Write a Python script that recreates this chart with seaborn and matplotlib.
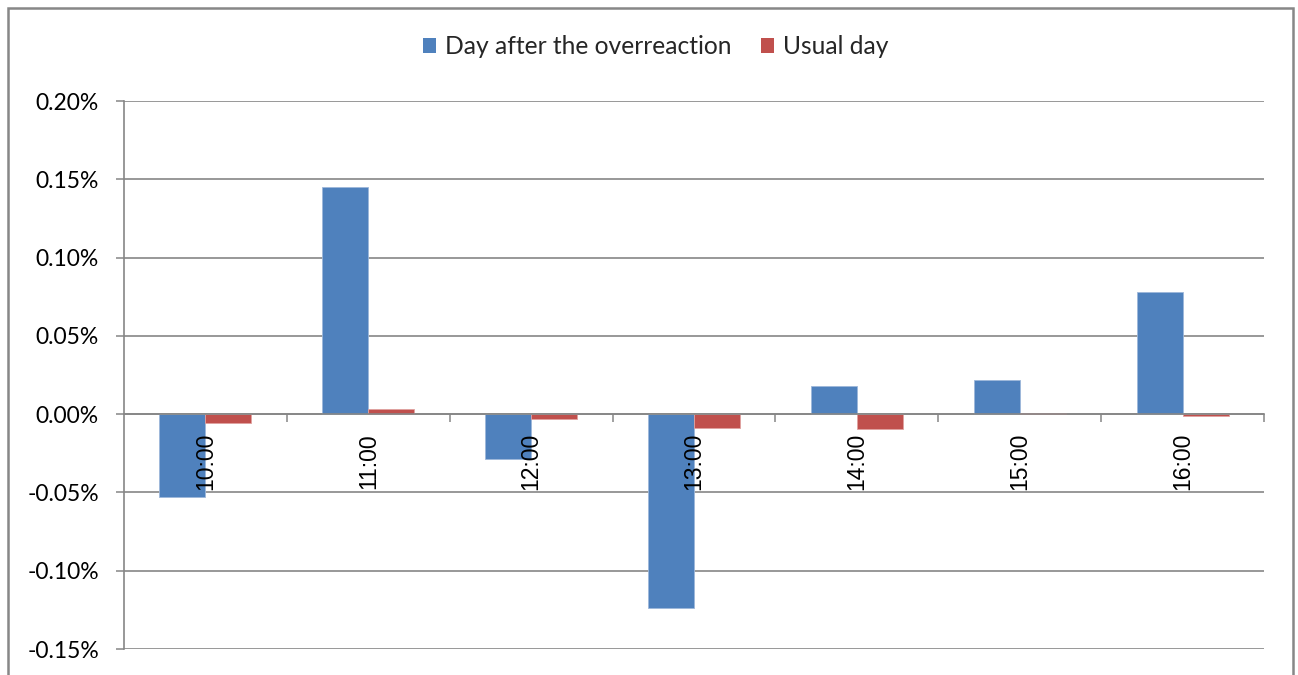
import matplotlib
matplotlib.use("Agg")
import matplotlib.pyplot as plt
from matplotlib.patches import Rectangle, Patch
from matplotlib.ticker import FixedLocator, FuncFormatter
import seaborn as sns
import pandas as pd

# Hourly average returns (in percent)
hours = ["10:00", "11:00", "12:00", "13:00", "14:00", "15:00", "16:00"]
day_after = [-0.0531, 0.1448, -0.0289, -0.1236, 0.0181, 0.0217, 0.0780]
usual_day = [-0.0055, 0.0036, -0.0028, -0.0087, -0.0096, 0.0006, -0.0010]
series_names = ["Day after the overreaction", "Usual day"]
y_ticks = [-0.15, -0.10, -0.05, 0.00, 0.05, 0.10, 0.15, 0.20]

blue = "#4F81BD"
red = "#C0504D"
grid_gray = "#868686"

df = pd.DataFrame({
    "hour": hours * 2,
    "value": day_after + usual_day,
    "series": [series_names[0]] * len(hours) + [series_names[1]] * len(hours),
})

sns.set_theme(style="white")
plt.rcParams["font.family"] = ["Lato", "DejaVu Sans"]

fig = plt.figure(figsize=(12.98, 6.75), dpi=100)
ax = fig.add_axes([124 / 1298, 26 / 675, 1140 / 1298, 548 / 675])

sns.barplot(data=df, x="hour", y="value", hue="series", order=hours,
            hue_order=series_names, palette=[blue, red], width=0.565,
            gap=0, saturation=1, ax=ax, legend=False,
            edgecolor="#9DB7DA", linewidth=0.6)
# lighter outline for the red bars
for patch in ax.patches[len(hours):]:
    patch.set_edgecolor("#E0A2A0")

ax.set_xlim(-0.5, len(hours) - 0.5)
ax.set_ylim(y_ticks[0], y_ticks[-1])
ax.set_xlabel("")
ax.set_ylabel("")

# y axis: percent labels and horizontal grid
ax.yaxis.set_major_locator(FixedLocator(y_ticks))
ax.yaxis.set_major_formatter(FuncFormatter(lambda v, _: f"{v:.2f}%"))
ax.tick_params(axis="y", which="major", direction="out", length=6,
               width=1.1, color=grid_gray, labelsize=16.5, pad=12,
               left=True, labelcolor="black")
ax.grid(axis="y", color=grid_gray, linewidth=1.2)
ax.set_axisbelow(True)
# category labels sit on top of the bars
ax.xaxis.set_zorder(3)

# category axis drawn along zero, tick marks between categories
ax.spines["bottom"].set_position(("data", 0))
for side in ("top", "right"):
    ax.spines[side].set_visible(False)
for side in ("left", "bottom"):
    ax.spines[side].set_color(grid_gray)
    ax.spines[side].set_linewidth(1.2)

ax.xaxis.set_minor_locator(FixedLocator([i + 0.5 for i in range(len(hours))]))
ax.tick_params(axis="x", which="minor", direction="out", length=6,
               width=1.1, color=grid_gray, bottom=True)
ax.tick_params(axis="x", which="major", length=0, pad=13.5, bottom=True,
               labelsize=16.5, labelcolor="black")
for lbl in ax.get_xticklabels():
    lbl.set_rotation(90)
    lbl.set_fontfamily(["Liberation Sans", "DejaVu Sans"])
    lbl.set_va("top")
    lbl.set_ha("center")

# legend across the top
handles = [Patch(facecolor=blue, edgecolor="none"),
           Patch(facecolor=red, edgecolor="none")]
fig.legend(handles, series_names, loc="center",
           bbox_to_anchor=(0.505, 1 - 47 / 675), ncol=2, frameon=False,
           fontsize=17.7, handlelength=0.55, handleheight=0.55,
           handletextpad=0.35, columnspacing=1.2)

# outer chart frame
fig.patches.append(Rectangle((8 / 1298, -0.02), 1285 / 1298, 1.02 - 8 / 675,
                             transform=fig.transFigure, fill=False,
                             edgecolor="#878787", linewidth=1.8))

fig.savefig("out.png", dpi=100)
